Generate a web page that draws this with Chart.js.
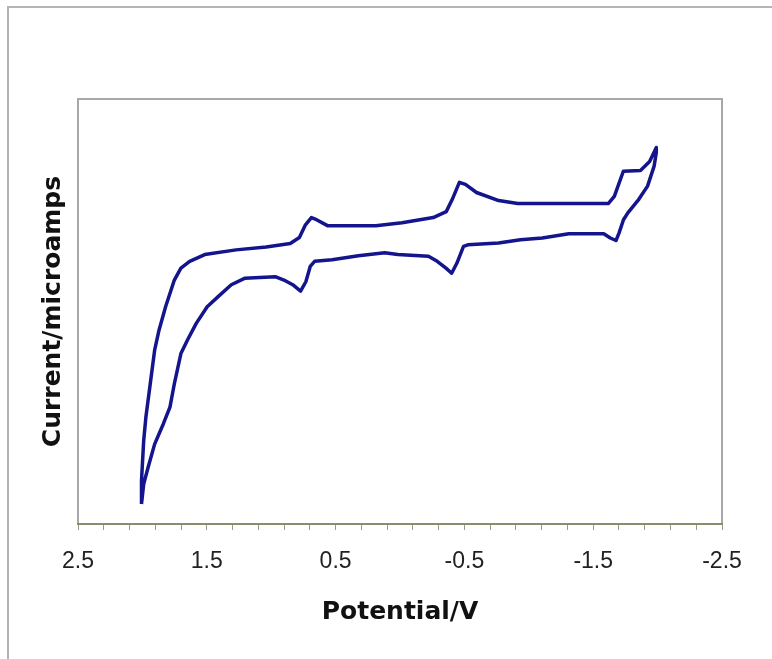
<!DOCTYPE html>
<html>
<head>
<meta charset="utf-8">
<script src="https://cdn.jsdelivr.net/npm/chart.js@4"></script>
<style>
  html, body { margin: 0; padding: 0; background: #fff; }
  #wrap { position: relative; width: 772px; height: 659px; overflow: hidden; }
  #frame { position: absolute; left: 7px; top: 6px; width: 900px; height: 900px;
           border-left: 2px solid #b4b4b4; border-top: 2px solid #b4b4b4; }
  canvas { position: absolute; left: 0; top: 0; }
</style>
</head>
<body>
<div id="wrap">
  <div id="frame"></div>
  <canvas id="c" width="772" height="659"></canvas>
</div>
<script>
// Cyclic voltammogram: potential (V) and current (arbitrary, y axis unlabeled)
const forwardPotential = [2.007, 2.007, 1.990, 1.973, 1.939, 1.905, 1.871, 1.820, 1.752, 1.701, 1.633,
  1.516, 1.273, 1.039, 0.852, 0.781, 0.734, 0.688, 0.648, 0.563, 0.188, -0.016, -0.258, -0.359,
  -0.406, -0.461, -0.508, -0.594, -0.766, -0.914, -1.617, -1.664, -1.734, -1.867, -1.938, -1.990];
const forwardCurrent = [4.7, 10.2, 19.6, 25.1, 33.0, 40.9, 45.6, 51.1, 57.4, 60.2, 61.8,
  63.4, 64.5, 65.2, 66.0, 67.4, 70.4, 72.1, 71.6, 70.2, 70.2, 70.9, 72.1, 73.5,
  76.4, 80.4, 79.9, 78.0, 76.1, 75.4, 75.4, 77.1, 83.0, 83.2, 85.3, 88.6];
const reversePotential = [-1.990, -1.973, -1.922, -1.854, -1.769, -1.735, -1.701, -1.677, -1.633, -1.582,
  -1.310, -1.105, -0.935, -0.765, -0.527, -0.493, -0.442, -0.401, -0.357, -0.289, -0.221, 0.017,
  0.119, 0.323, 0.527, 0.663, 0.697, 0.731, 0.772, 0.833, 0.901, 0.969, 1.207, 1.310, 1.412,
  1.497, 1.582, 1.650, 1.701, 1.752, 1.786, 1.837, 1.905, 1.956, 1.990, 2.007];
const reverseCurrent = [87.4, 84.2, 79.5, 76.4, 73.2, 71.6, 68.5, 66.7, 67.3, 68.3,
  68.3, 67.3, 66.9, 66.1, 65.7, 65.3, 61.4, 59.0, 60.2, 61.8, 63.0, 63.4,
  63.8, 63.1, 62.2, 61.8, 60.6, 57.0, 54.8, 56.3, 57.4, 58.2, 57.8, 56.3, 53.5,
  51.1, 47.2, 43.3, 40.1, 33.0, 27.5, 23.6, 18.8, 13.3, 9.4, 4.7];
const xTickLabels = ['2.5', '1.5', '0.5', '-0.5', '-1.5', '-2.5'];
const xTitle = 'Potential/V';
const yTitle = 'Current/microamps';

const points = [];
forwardPotential.forEach((v, i) => points.push({x: v, y: forwardCurrent[i]}));
reversePotential.forEach((v, i) => points.push({x: v, y: reverseCurrent[i]}));

const framePlugin = {
  id: 'frame',
  afterDatasetsDraw(chart) {
    const {ctx, chartArea: a} = chart;
    ctx.save();
    ctx.strokeStyle = '#a8a8a8';
    ctx.lineWidth = 2;
    ctx.beginPath();
    ctx.moveTo(a.left, a.bottom);
    ctx.lineTo(a.left, a.top);
    ctx.lineTo(a.right, a.top);
    ctx.lineTo(a.right, a.bottom);
    ctx.stroke();
    ctx.strokeStyle = '#8c8c6c';
    ctx.beginPath();
    ctx.moveTo(a.left - 1, a.bottom);
    ctx.lineTo(a.right + 1, a.bottom);
    ctx.stroke();
    ctx.restore();
  }
};

new Chart(document.getElementById('c'), {
  type: 'scatter',
  data: {
    datasets: [{
      data: points,
      showLine: true,
      borderColor: '#14148c',
      backgroundColor: '#14148c',
      borderWidth: 3.5,
      pointRadius: 0,
      tension: 0,
      borderJoinStyle: 'round'
    }]
  },
  options: {
    responsive: false,
    animation: false,
    layout: { padding: { left: 20, top: 99, right: 50, bottom: 0 } },
    plugins: { legend: { display: false }, tooltip: { enabled: false } },
    scales: {
      x: {
        type: 'linear',
        reverse: true,
        min: -2.5,
        max: 2.5,
        afterFit(s) { s.height = 135; },
        ticks: {
          stepSize: 0.2,
          autoSkip: false,
          maxRotation: 0,
          padding: 18,
          color: '#222',
          font: { family: '"Liberation Sans", Arial, sans-serif', size: 23 },
          callback(v) {
            const t = Number(v).toFixed(1);
            return xTickLabels.includes(t) ? t : '';
          }
        },
        grid: { drawOnChartArea: false, drawTicks: true, tickLength: 6, color: '#9a9a80', lineWidth: 1 },
        border: { display: true, color: '#8c8c6c', width: 2 },
        title: {
          display: true,
          text: xTitle,
          color: '#111',
          padding: { top: 0, bottom: 32 },
          font: { family: '"DejaVu Sans", sans-serif', size: 25, weight: 'bold' }
        }
      },
      y: {
        type: 'linear',
        min: 0,
        max: 100,
        afterFit(s) { s.width = 58; },
        ticks: { display: false },
        grid: { display: false },
        border: { display: true, color: '#a8a8a8', width: 2 },
        title: {
          display: true,
          text: yTitle,
          color: '#111',
          padding: { top: 18, bottom: 0 },
          font: { family: '"DejaVu Sans", sans-serif', size: 25, weight: 'bold' }
        }
      }
    }
  },
  plugins: [framePlugin]
});
</script>
</body>
</html>
